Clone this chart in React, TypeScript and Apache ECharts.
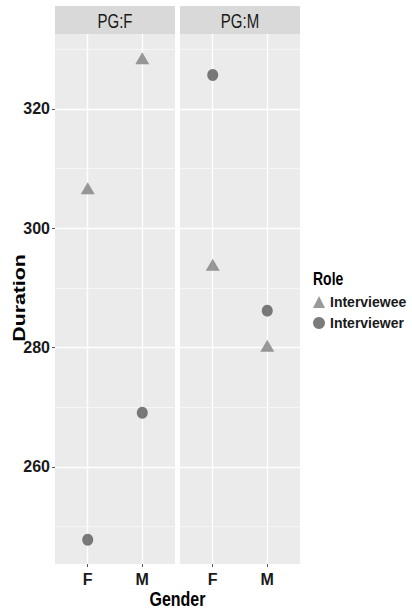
import React, { useEffect, useRef } from 'react';
import * as echarts from 'echarts';

const panels = ['PG:F', 'PG:M'];
const genders = ['F', 'M'];
const roles = ['Interviewee', 'Interviewer'];
// values per panel, ordered by gender F, M
const intervieweeByPanel = [
  [306.7, 328.5],
  [293.9, 280.3],
];
const interviewerByPanel = [
  [247.8, 269.1],
  [325.7, 286.2],
];
const yMajorTicks = [260, 280, 300, 320];
const yMinorTicks = [250, 270, 290, 310, 330];
const yRange = [243.74, 332.57];
const xRange = [0.4, 2.6];

const NARROW = '"Liberation Sans Narrow", "Liberation Sans", Arial, sans-serif';
const SANS = '"Liberation Sans", Arial, sans-serif';

const PANEL_LEFT = [55, 180];
const PANEL_W = 120;
const PANEL_TOP = 34;
const PANEL_H = 530;

export default function App() {
  const ref = useRef<HTMLDivElement>(null);
  useEffect(() => {
    if (!ref.current) return;
    const chart = echarts.init(ref.current, null, { renderer: 'svg' });
    const grids = panels.map((_, p) => ({
      left: PANEL_LEFT[p],
      top: PANEL_TOP,
      width: PANEL_W,
      height: PANEL_H,
      show: true,
      backgroundColor: '#ebebeb',
      borderWidth: 0,
      containLabel: false,
    }));
    const xAxes = panels.map((_, p) => ({
      type: 'value',
      gridIndex: p,
      min: xRange[0],
      max: xRange[1],
      axisLine: { show: false },
      splitLine: { show: false },
      axisTick: { show: true, length: 3, lineStyle: { color: '#555', width: 1 }, customValues: genders.map((_, i) => i + 1) },
      axisLabel: {
        customValues: genders.map((_, i) => i + 1),
        formatter: (v: number) => genders[Math.round(v) - 1] ?? '',
        color: '#1a1a1a',
        fontFamily: NARROW,
        fontWeight: 'bold',
        fontSize: 16,
        margin: 7,
      },
    }));
    const yAxes = panels.map((_, p) => ({
      type: 'value',
      gridIndex: p,
      min: yRange[0],
      max: yRange[1],
      axisLine: { show: false },
      splitLine: { show: false },
      axisTick: { show: p === 0, length: 3, lineStyle: { color: '#555', width: 1 }, customValues: yMajorTicks },
      axisLabel: {
        show: p === 0,
        customValues: yMajorTicks,
        color: '#1a1a1a',
        fontFamily: NARROW,
        fontWeight: 'bold',
        fontSize: 16,
        margin: 5,
      },
    }));

    const series: any[] = [];
    panels.forEach((_, p) => {
      // gridlines
      series.push({
        type: 'line',
        name: 'grid' + p,
        xAxisIndex: p,
        yAxisIndex: p,
        data: [],
        z: 1,
        silent: true,
        markLine: {
          silent: true,
          symbol: 'none',
          label: { show: false },
          animation: false,
          data: [
            ...yMinorTicks.map((v) => ({ yAxis: v, lineStyle: { color: '#fafafa', width: 0.7, type: 'solid' } })),
            ...yMajorTicks.map((v) => ({ yAxis: v, lineStyle: { color: '#ffffff', width: 1.3, type: 'solid' } })),
            ...genders.map((_, i) => ({ xAxis: i + 1, lineStyle: { color: '#ffffff', width: 1.3, type: 'solid' } })),
          ],
        },
      });
      series.push({
        type: 'scatter',
        name: roles[0],
        xAxisIndex: p,
        yAxisIndex: p,
        symbol: 'triangle',
        symbolSize: [14, 12],
        itemStyle: { color: '#808080' },
        z: 5,
        data: intervieweeByPanel[p].map((v, i) => [i + 1, v]),
      });
      series.push({
        type: 'scatter',
        name: roles[1],
        xAxisIndex: p,
        yAxisIndex: p,
        symbol: 'circle',
        symbolSize: [11, 12],
        itemStyle: { color: '#5a5a5a' },
        z: 5,
        data: interviewerByPanel[p].map((v, i) => [i + 1, v]),
      });
    });

    const graphic: any[] = [];
    panels.forEach((name, p) => {
      graphic.push({
        type: 'rect',
        shape: { x: PANEL_LEFT[p], y: 6, width: PANEL_W, height: 28 },
        style: { fill: '#d9d9d9' },
        z: 0,
      });
      graphic.push({
        type: 'text',
        x: PANEL_LEFT[p] + PANEL_W / 2,
        y: 21,
        scaleY: 1.35,
        style: { text: name, font: `15px ${SANS}`, fill: '#1a1a1a', textAlign: 'center', textVerticalAlign: 'middle' },
        z: 1,
      });
    });
    graphic.push({
      type: 'text',
      x: 177.5,
      y: 599,
      scaleY: 1.3,
      style: { text: 'Gender', font: `bold 16px ${SANS}`, fill: '#000', textAlign: 'center', textVerticalAlign: 'middle' },
    });
    graphic.push({
      type: 'text',
      x: 19,
      y: 298,
      rotation: Math.PI / 2,
      scaleX: 1.33,
      style: { text: 'Duration', font: `bold 16px ${SANS}`, fill: '#000', textAlign: 'center', textVerticalAlign: 'middle' },
    });
    graphic.push({
      type: 'text',
      x: 313,
      y: 278,
      scaleY: 1.3,
      style: { text: 'Role', font: `bold 14px ${SANS}`, fill: '#000', textAlign: 'left', textVerticalAlign: 'middle' },
    });

    chart.setOption({
      animation: false,
      backgroundColor: '#ffffff',
      grid: grids,
      xAxis: xAxes,
      yAxis: yAxes,
      series,
      graphic,
      legend: {
        data: [
          { name: roles[0], icon: 'triangle' },
          { name: roles[1], icon: 'circle' },
        ],
        orient: 'vertical',
        left: 313,
        top: 295,
        padding: 0,
        itemGap: 7,
        itemWidth: 12,
        itemHeight: 12,
        selectedMode: false,
        textStyle: { fontFamily: NARROW, fontWeight: 'bold', fontSize: 14, color: '#1a1a1a' },
      },
    });
    return () => chart.dispose();
  }, []);
  return <div ref={ref} style={{ position: 'absolute', left: 0, top: 0, width: 412, height: 611 }} />;
}
